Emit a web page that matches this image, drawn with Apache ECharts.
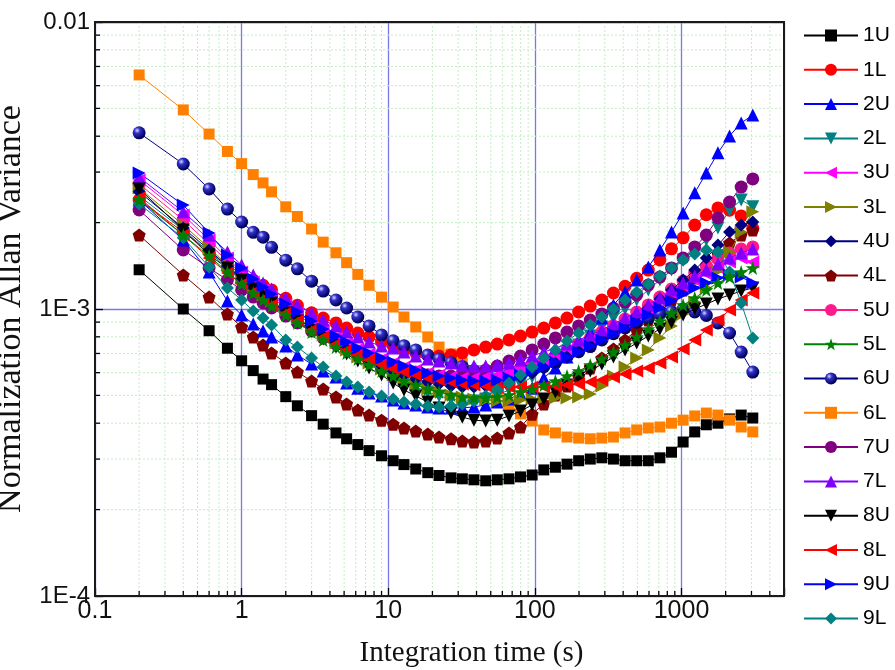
<!DOCTYPE html>
<html><head><meta charset="utf-8">
<script src="https://cdn.jsdelivr.net/npm/echarts@6/dist/echarts.min.js"></script>
<style>html,body{margin:0;padding:0;background:#fff}#c{width:895px;height:670px}</style>
</head><body><div id="c"></div>
<script>
// Integration time (s)
const tau = [0.2,0.4,0.6,0.8,1,1.2,1.4,1.6,2,2.4,3,3.6,4.4,5.2,6.2,7.4,9,10.8,12.8,15.4,18.6,22.2,26.8,32,38.4,46.2,55.4,66.6,79.8,95.8,115,138,165.6,198.8,238.6,286.2,343.4,412.2,494.6,593.6,712.2,854.6,1025.6,1230.6,1476.8,1772.2,2126.6,2552,3062.4];
// Normalized Allan variance, in units of 1E-4
const UNIT = 1e-4;
const v1U = [13.7,10.0,8.4,7.3,6.6,6.1,5.7,5.45,4.95,4.6,4.25,3.97,3.7,3.53,3.37,3.21,3.08,2.96,2.87,2.77,2.69,2.63,2.58,2.56,2.54,2.52,2.54,2.56,2.6,2.64,2.75,2.81,2.88,2.96,3.0,3.03,3.0,2.96,2.96,2.96,3.03,3.17,3.44,3.73,3.95,4.0,4.14,4.27,4.17];
const v1L = [24.0,18.55,15.8,14.2,13.25,12.6,12.1,11.65,10.9,10.3,9.7,9.3,8.94,8.58,8.25,7.99,7.67,7.43,7.2,7.03,6.91,6.86,6.91,7.03,7.2,7.37,7.55,7.8,8.05,8.31,8.58,8.94,9.3,9.76,10.24,10.75,11.37,12.0,12.8,13.67,14.82,16.2,17.7,19.6,21.3,22.5,22.1,21.1,19.1];
const v2U = [24.0,17.4,13.45,10.66,9.53,8.87,8.38,7.99,7.43,6.91,6.43,6.08,5.8,5.52,5.3,5.1,4.98,4.82,4.7,4.63,4.56,4.52,4.52,4.52,4.56,4.63,4.74,4.86,5.06,5.3,5.75,6.23,6.8,7.49,8.25,9.3,10.33,11.46,12.62,14.0,16.05,18.55,21.6,25.4,29.8,35.0,40.1,44.5,47.4];
const v2L = [24.8,18.85,15.8,13.9,12.6,11.65,11.0,10.5,9.76,9.15,8.45,7.93,7.43,7.08,6.75,6.43,6.13,5.84,5.57,5.35,5.14,4.98,4.86,4.78,4.78,4.86,5.02,5.22,5.48,5.8,6.13,6.54,6.97,7.49,8.05,8.66,9.3,10.0,10.75,11.65,12.62,13.67,14.82,16.05,17.4,19.15,22.1,24.0,22.7];
const v3U = [28.15,21.26,17.4,15.05,13.45,12.42,11.65,11.1,10.33,9.68,9.0,8.45,7.99,7.61,7.26,6.97,6.7,6.48,6.28,6.13,5.98,5.89,5.8,5.75,5.75,5.8,5.89,6.03,6.23,6.43,6.64,6.91,7.2,7.49,7.8,8.12,8.52,9.0,9.53,10.08,10.75,11.37,12.0,12.62,13.25,13.9,14.58,15.05,14.58];
const v3L = [26.4,19.62,16.3,14.23,12.82,11.93,11.19,10.66,9.92,9.3,8.66,8.12,7.61,7.2,6.8,6.48,6.18,5.89,5.66,5.44,5.26,5.14,5.02,4.94,4.86,4.82,4.78,4.78,4.82,4.86,4.9,4.9,4.9,4.94,5.06,5.39,5.84,6.28,6.75,7.2,7.93,8.73,9.6,10.58,11.84,13.56,15.8,18.55,21.8];
const v4U = [25.6,19.15,16.05,14.1,12.72,11.84,11.1,10.58,9.84,9.22,8.58,8.05,7.61,7.26,6.91,6.59,6.33,6.08,5.89,5.7,5.57,5.48,5.39,5.35,5.35,5.39,5.48,5.61,5.8,5.98,6.23,6.48,6.8,7.14,7.49,7.93,8.38,8.87,9.45,10.08,10.83,11.65,12.62,13.67,15.05,16.7,18.55,19.6,20.1];
const v4L = [18.1,13.14,11.0,9.6,8.66,7.99,7.49,7.03,6.48,6.03,5.61,5.26,4.94,4.67,4.45,4.27,4.1,3.97,3.85,3.76,3.67,3.58,3.53,3.47,3.44,3.47,3.55,3.7,3.88,4.3,4.67,5.02,5.39,5.8,6.23,6.75,7.26,7.8,8.45,9.15,9.92,10.75,11.65,12.82,14.1,15.55,16.97,18.1,18.85];
const v5U = [27.25,20.42,16.85,14.7,13.25,12.22,11.46,10.92,10.16,9.53,8.87,8.31,7.86,7.49,7.14,6.86,6.59,6.38,6.18,6.03,5.89,5.8,5.7,5.66,5.66,5.7,5.8,5.94,6.13,6.33,6.59,6.86,7.2,7.55,7.93,8.31,8.73,9.22,9.76,10.33,11.0,11.74,12.52,13.35,14.1,14.94,15.67,16.18,16.45];
const v5L = [24.0,18.1,15.3,13.45,12.22,11.37,10.75,10.24,9.53,8.94,8.31,7.8,7.37,7.03,6.7,6.38,6.08,5.84,5.61,5.44,5.26,5.14,5.02,4.94,4.9,4.9,4.94,5.02,5.14,5.26,5.44,5.61,5.84,6.08,6.38,6.7,7.08,7.49,7.99,8.52,9.08,9.68,10.33,10.92,11.65,12.32,12.92,13.45,13.9];
const v6U = [41.1,32.0,26.2,22.3,20.1,18.5,17.8,16.4,14.8,13.8,12.5,11.55,10.75,10.08,9.38,8.73,8.12,7.75,7.45,7.2,6.9,6.7,6.5,6.3,6.1,6.0,5.9,5.9,6.0,6.1,6.3,6.5,6.8,7.1,7.4,7.8,8.2,8.6,9.0,9.3,9.6,9.8,10.0,9.76,9.5,8.94,8.25,7.08,6.03];
const v6L = [65.4,49.4,40.7,35.4,32.1,29.4,27.5,25.6,22.7,21.0,19.0,17.1,15.7,14.5,13.2,12.1,11.0,10.16,9.38,8.66,7.99,7.37,6.97,6.48,6.03,5.57,5.10,4.67,4.31,4.07,3.79,3.70,3.58,3.55,3.53,3.55,3.58,3.70,3.79,3.85,3.88,4.0,4.1,4.24,4.34,4.27,4.1,3.88,3.73];
const v7U = [22.13,16.05,13.9,12.62,11.65,11.0,10.5,10.08,9.45,8.94,8.38,7.93,7.55,7.2,6.91,6.64,6.43,6.23,6.08,5.98,5.89,5.84,5.84,5.89,5.98,6.13,6.33,6.59,6.86,7.2,7.55,7.93,8.31,8.73,9.15,9.6,10.08,10.58,11.19,12.12,12.92,13.9,15.05,16.45,18.1,20.75,23.6,26.6,28.4];
const v7L = [28.8,21.8,18.1,15.8,14.23,13.14,12.32,11.74,10.92,10.33,9.68,9.15,8.73,8.31,7.99,7.67,7.43,7.31,7.08,6.86,6.7,6.59,6.48,6.38,6.33,6.33,6.38,6.48,6.64,6.86,7.08,7.31,7.55,7.8,8.12,8.45,8.87,9.3,9.76,10.33,10.92,11.65,12.32,13.03,13.67,14.35,15.05,15.67,16.18];
const v8U = [26.2,18.85,15.42,13.9,12.62,11.74,11.0,10.5,9.68,9.08,8.38,7.86,7.37,6.97,6.59,6.23,5.89,5.52,5.22,4.98,4.74,4.52,4.34,4.2,4.1,4.07,4.1,4.24,4.41,4.63,4.86,5.14,5.44,5.75,6.08,6.43,6.8,7.2,7.61,8.05,8.52,9.0,9.53,10.0,10.4,10.83,11.19,11.55,11.84];
const v8L = [24.4,18.1,15.05,13.35,12.22,11.46,10.83,10.33,9.68,9.08,8.45,7.99,7.55,7.2,6.91,6.64,6.38,6.18,6.03,5.89,5.75,5.66,5.57,5.48,5.44,5.39,5.35,5.35,5.35,5.35,5.35,5.39,5.44,5.48,5.57,5.66,5.8,5.94,6.08,6.23,6.48,6.8,7.26,7.8,8.45,9.15,9.92,10.75,11.37];
const v9U = [29.8,23.03,18.4,15.42,13.9,12.72,11.93,11.28,10.41,9.76,9.08,8.52,8.05,7.67,7.31,7.03,6.75,6.54,6.33,6.13,5.98,5.84,5.75,5.66,5.61,5.61,5.66,5.75,5.89,6.08,6.28,6.54,6.8,7.08,7.43,7.8,8.18,8.58,9.0,9.53,10.08,10.66,11.28,11.84,12.32,12.82,13.14,12.92,12.32];
const v9L = [23.2,17.7,14.0,11.84,10.75,9.84,9.3,8.79,7.8,7.37,6.75,6.28,5.84,5.57,5.35,5.14,4.98,4.86,4.74,4.67,4.59,4.56,4.59,4.67,4.78,4.98,5.22,5.52,5.89,6.28,6.75,7.2,7.74,8.25,8.79,9.38,10.0,10.75,11.46,12.22,13.03,13.9,14.82,15.55,16.05,15.8,13.45,10.5,7.93];

const seriesNames = ['1U','1L','2U','2L','3U','3L','4U','4L','5U','5L','6U','6L','7U','7L','8U','8L','9U','9L'];
const seriesValues = [v1U,v1L,v2U,v2L,v3U,v3L,v4U,v4L,v5U,v5L,v6U,v6L,v7U,v7L,v8U,v8L,v9U,v9L];
const xTickLabels = {'-1':'0.1','0':'1','1':'10','2':'100','3':'1000'};
const yTickLabels = {'-4':'1E-4','-3':'1E-3','-2':'0.01'};
const X_MIN = 0.1, X_MAX = 5000, Y_MIN = 1e-4, Y_MAX = 1e-2;

const TRI_UP = 'path://M5,0 L10,9 L0,9 Z';
const TRI_DN = 'path://M0,0 L10,0 L5,9 Z';
const TRI_LT = 'path://M9,0 L9,10 L0,5 Z';
const TRI_RT = 'path://M0,0 L0,10 L9,5 Z';
const PENTA = 'path://M0,-10 L9.51,-3.09 L5.88,8.09 L-5.88,8.09 L-9.51,-3.09 Z';
const STAR = 'path://M0,-10 L2.35,-3.24 L9.51,-3.09 L3.8,1.24 L5.88,8.09 L0,4 L-5.88,8.09 L-3.8,1.24 L-9.51,-3.09 L-2.35,-3.24 Z';
const sphere = new echarts.graphic.RadialGradient(0.35, 0.32, 0.65, [
  {offset:0, color:'#d8d8ff'}, {offset:0.35, color:'#3030c8'}, {offset:1, color:'#00005a'}]);

const styles = [
  {c:'#000000', s:'rect', z:10},
  {c:'#ff0000', s:'circle', z:12},
  {c:'#0000ff', s:TRI_UP, z:13},
  {c:'#008080', s:TRI_DN, z:12},
  {c:'#ff00ff', s:TRI_LT, z:13},
  {c:'#808000', s:TRI_RT, z:13},
  {c:'#000080', s:'diamond', z:13},
  {c:'#800000', s:PENTA, z:12},
  {c:'#ff1a8c', s:'circle', z:12},
  {c:'#008000', s:STAR, z:14},
  {c:'#000080', s:'circle', z:12, fill:sphere},
  {c:'#ff8000', s:'rect', z:10},
  {c:'#800080', s:'circle', z:12},
  {c:'#8000ff', s:TRI_UP, z:13},
  {c:'#000000', s:TRI_DN, z:13},
  {c:'#ff0000', s:TRI_LT, z:13},
  {c:'#0000ff', s:TRI_RT, z:13},
  {c:'#008080', s:'diamond', z:13}
];
function symSize(s){ if (s==='rect') return 11; if (s===STAR) return 14; if (s==='diamond') return 13; return 13; }

const minorFactors = [2,3,4,5,6,7,8,9];
const xDecades = [0.1,1,10,100,1000];
const yDecades = [1e-4,1e-3];
const xMinor = [];
xDecades.forEach(d => minorFactors.forEach(f => { const v = d*f; if (v < X_MAX*0.999) xMinor.push(v); }));
const yMinor = [];
yDecades.forEach(d => minorFactors.forEach(f => yMinor.push(d*f)));

const GRID_MINOR = '#c6ecc6';
function renderXMinor(params, api){
  const v = api.value(0);
  const t = api.coord([v, Y_MAX]), b = api.coord([v, Y_MIN]);
  return {type:'group', children:[
    {type:'line', shape:{x1:t[0],y1:t[1],x2:b[0],y2:b[1]}, style:{stroke:GRID_MINOR, lineWidth:1, lineDash:[2,2]}},
    {type:'line', shape:{x1:b[0],y1:b[1],x2:b[0],y2:b[1]-5}, style:{stroke:'#000', lineWidth:1.3}}
  ]};
}
function renderYMinor(params, api){
  const v = api.value(1);
  const l = api.coord([X_MIN, v]), r = api.coord([X_MAX, v]);
  return {type:'group', children:[
    {type:'line', shape:{x1:l[0],y1:l[1],x2:r[0],y2:r[1]}, style:{stroke:GRID_MINOR, lineWidth:1, lineDash:[2,2]}},
    {type:'line', shape:{x1:l[0],y1:l[1],x2:l[0]+5,y2:l[1]}, style:{stroke:'#000', lineWidth:1.3}}
  ]};
}

const series = [
  {type:'custom', name:'_xminor', silent:true, z:1, renderItem:renderXMinor, data:xMinor.map(v=>[v, 1e-3]), clip:false},
  {type:'custom', name:'_yminor', silent:true, z:1, renderItem:renderYMinor, data:yMinor.map(v=>[1, v]), clip:false}
];
seriesNames.forEach((name, k) => {
  const st = styles[k];
  series.push({
    type:'line', name:name, z:st.z,
    data: tau.map((t,i) => [t, seriesValues[k][i]*UNIT]),
    symbol: st.s, symbolSize: symSize(st.s),
    showAllSymbol:true,
    lineStyle:{color:st.c, width:1},
    itemStyle:{color: st.fill || st.c, borderWidth:0},
    emphasis:{disabled:true}
  });
});

const G = {left:95, right:111, top:22, bottom:74};
const chart = echarts.init(document.getElementById('c'), null, {renderer:'canvas'});
chart.setOption({
  animation:false,
  backgroundColor:'#ffffff',
  grid:{left:G.left, right:G.right, top:G.top, bottom:G.bottom, containLabel:false, outerBoundsMode:'none', show:false},
  graphic:[{type:'rect', silent:true, z:100,
    shape:{x:G.left, y:G.top, width:895-G.left-G.right, height:670-G.top-G.bottom},
    style:{fill:null, stroke:'#1a1a1a', lineWidth:2}}],
  legend:{
    orient:'vertical', left:798, top:20, itemWidth:54, itemHeight:15, itemGap:13.3,
    data:seriesNames,
    textStyle:{fontFamily:'Liberation Sans, Arial, sans-serif', fontSize:21, color:'#000', lineHeight:20},
    selectedMode:false
  },
  xAxis:{
    type:'log', logBase:10, min:X_MIN, max:X_MAX,
    name:'Integration time (s)', nameLocation:'middle', nameGap:43,
    nameTextStyle:{fontFamily:'Liberation Serif, Times New Roman, serif', fontSize:29, color:'#111', padding:[0,0,0,64]},
    axisLine:{show:true, lineStyle:{color:'#1a1a1a', width:2}},
    axisTick:{show:true, inside:true, length:8, lineStyle:{color:'#000', width:1.3}},
    axisLabel:{fontFamily:'Liberation Sans, Arial, sans-serif', fontSize:25, color:'#111', margin:3,
      formatter:(v)=>{ const lg = Math.round(Math.log10(v)); return (Math.abs(Math.log10(v)-lg)<1e-6 && xTickLabels[lg]!==undefined) ? xTickLabels[lg] : ''; }},
    splitLine:{show:true, lineStyle:{color:'#7878e6', width:1.3}},
    minorTick:{show:false}, minorSplitLine:{show:false}
  },
  yAxis:{
    type:'log', logBase:10, min:Y_MIN, max:Y_MAX,
    name:'Normalization Allan Variance', nameLocation:'middle', nameGap:50,
    nameTextStyle:{fontFamily:'Liberation Serif, Times New Roman, serif', fontSize:34, color:'#111'},
    axisLine:{show:true, lineStyle:{color:'#1a1a1a', width:2}},
    axisTick:{show:true, inside:true, length:8, lineStyle:{color:'#000', width:1.3}},
    axisLabel:{fontFamily:'Liberation Sans, Arial, sans-serif', fontSize:24, color:'#111', margin:5,
      formatter:(v)=>{ const lg = Math.round(Math.log10(v)); return (Math.abs(Math.log10(v)-lg)<1e-6 && yTickLabels[lg]!==undefined) ? yTickLabels[lg] : ''; }},
    splitLine:{show:true, lineStyle:{color:'#7878e6', width:1.3}}
  },
  series:series
});
</script>
</body></html>
